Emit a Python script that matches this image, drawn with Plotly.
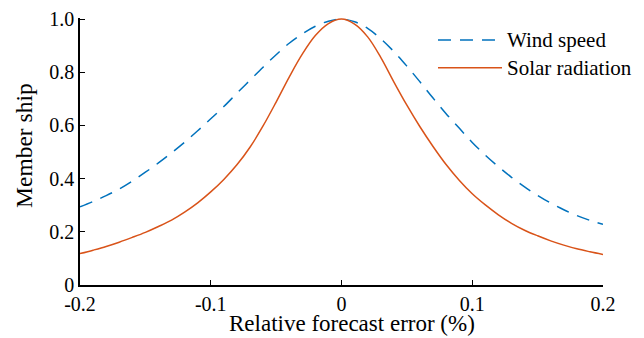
import plotly.graph_objects as go

# Relative forecast error (x) sampled every 0.01
x_vals = [-0.20, -0.19, -0.18, -0.17, -0.16, -0.15, -0.14, -0.13, -0.12, -0.11,
          -0.10, -0.09, -0.08, -0.07, -0.06, -0.05, -0.04, -0.03, -0.02, -0.01,
          0.00, 0.01, 0.02, 0.03, 0.04, 0.05, 0.06, 0.07, 0.08, 0.09,
          0.10, 0.11, 0.12, 0.13, 0.14, 0.15, 0.16, 0.17, 0.18, 0.19, 0.20]

wind_speed = [0.294, 0.314, 0.336, 0.361, 0.391, 0.424, 0.459, 0.497, 0.537, 0.580,
              0.625, 0.671, 0.721, 0.770, 0.819, 0.866, 0.909, 0.944, 0.973, 0.992,
              1.000, 0.990, 0.965, 0.926, 0.878, 0.823, 0.764, 0.703, 0.644, 0.590,
              0.536, 0.488, 0.445, 0.405, 0.369, 0.337, 0.308, 0.283, 0.261, 0.243, 0.228]

solar_radiation = [0.118, 0.131, 0.145, 0.161, 0.179, 0.198, 0.220, 0.244, 0.274, 0.309,
                   0.350, 0.397, 0.452, 0.518, 0.598, 0.688, 0.782, 0.868, 0.938, 0.983,
                   1.000, 0.981, 0.933, 0.856, 0.764, 0.676, 0.595, 0.521, 0.453, 0.394,
                   0.343, 0.301, 0.264, 0.232, 0.206, 0.185, 0.166, 0.150, 0.136, 0.125, 0.115]

series_names = ["Wind speed", "Solar radiation"]
series_colors = ["#0072BD", "#D95319"]
series_dashes = ["13px,9px", "solid"]

x_ticks = [-0.2, -0.1, 0.0, 0.1, 0.2]
x_tick_labels = ["-0.2", "-0.1", "0", "0.1", "0.2"]
y_ticks = [0, 0.2, 0.4, 0.6, 0.8, 1.0]
y_tick_labels = ["0", "0.2", "0.4", "0.6", "0.8", "1.0"]

x_title = "Relative forecast error (%)"
y_title = "Member ship"

FONT = "Liberation Serif, Times New Roman, serif"

fig = go.Figure()
for name, ys, color, dash in zip(series_names, [wind_speed, solar_radiation],
                                 series_colors, series_dashes):
    fig.add_trace(go.Scatter(
        x=x_vals, y=ys, mode="lines", name=name, showlegend=False,
        line=dict(color=color, width=1.5, dash=dash, shape="spline"),
    ))

# Legend drawn in paper coordinates (longer line samples, as in the original)
legend_rows_y = [0.9176, 0.8139]
for name, color, dash, ly in zip(series_names, series_colors, series_dashes, legend_rows_y):
    fig.add_shape(type="line", xref="paper", yref="paper",
                  x0=0.6845, x1=0.8069, y0=ly, y1=ly,
                  line=dict(color=color, width=1.5, dash=dash))
    fig.add_annotation(text=name, xref="paper", yref="paper",
                       x=0.8125, y=ly, xanchor="left", yanchor="middle",
                       showarrow=False,
                       font=dict(family=FONT, size=21, color="black"))

# Axis titles
fig.add_annotation(text=x_title, xref="paper", yref="paper",
                   x=0.520, y=-0.1948, xanchor="center", yanchor="bottom",
                   borderpad=0, showarrow=False,
                   font=dict(family=FONT, size=23, color="black"))
fig.add_annotation(text=y_title, xref="paper", yref="paper",
                   x=-0.107, y=0.521, xanchor="center", yanchor="middle",
                   textangle=-90, showarrow=False,
                   font=dict(family=FONT, size=23.5, color="black"))

fig.update_layout(
    width=644, height=338,
    margin=dict(l=80, r=41, t=18, b=53, autoexpand=False),
    paper_bgcolor="white", plot_bgcolor="white",
    font=dict(family=FONT, size=20, color="black"),
    showlegend=False,
    xaxis=dict(
        range=[-0.2, 0.2], automargin=False,
        tickvals=x_ticks, ticktext=x_tick_labels,
        ticks="inside", ticklen=5, tickwidth=1.2, tickcolor="black",
        showline=True, linecolor="black", linewidth=1.5,
        showgrid=False, zeroline=False, mirror=False,
        tickfont=dict(family=FONT, size=20, color="black"),
    ),
    yaxis=dict(
        range=[0, 1.004], automargin=False,
        tickvals=y_ticks, ticktext=y_tick_labels,
        ticks="inside", ticklen=5, tickwidth=1.2, tickcolor="black",
        showline=True, linecolor="black", linewidth=1.5,
        showgrid=False, zeroline=False, mirror=False,
        tickfont=dict(family=FONT, size=20, color="black"),
    ),
)

fig.write_html("out.html", config={"displayModeBar": False},
               post_script="document.body.style.margin='0px';")
